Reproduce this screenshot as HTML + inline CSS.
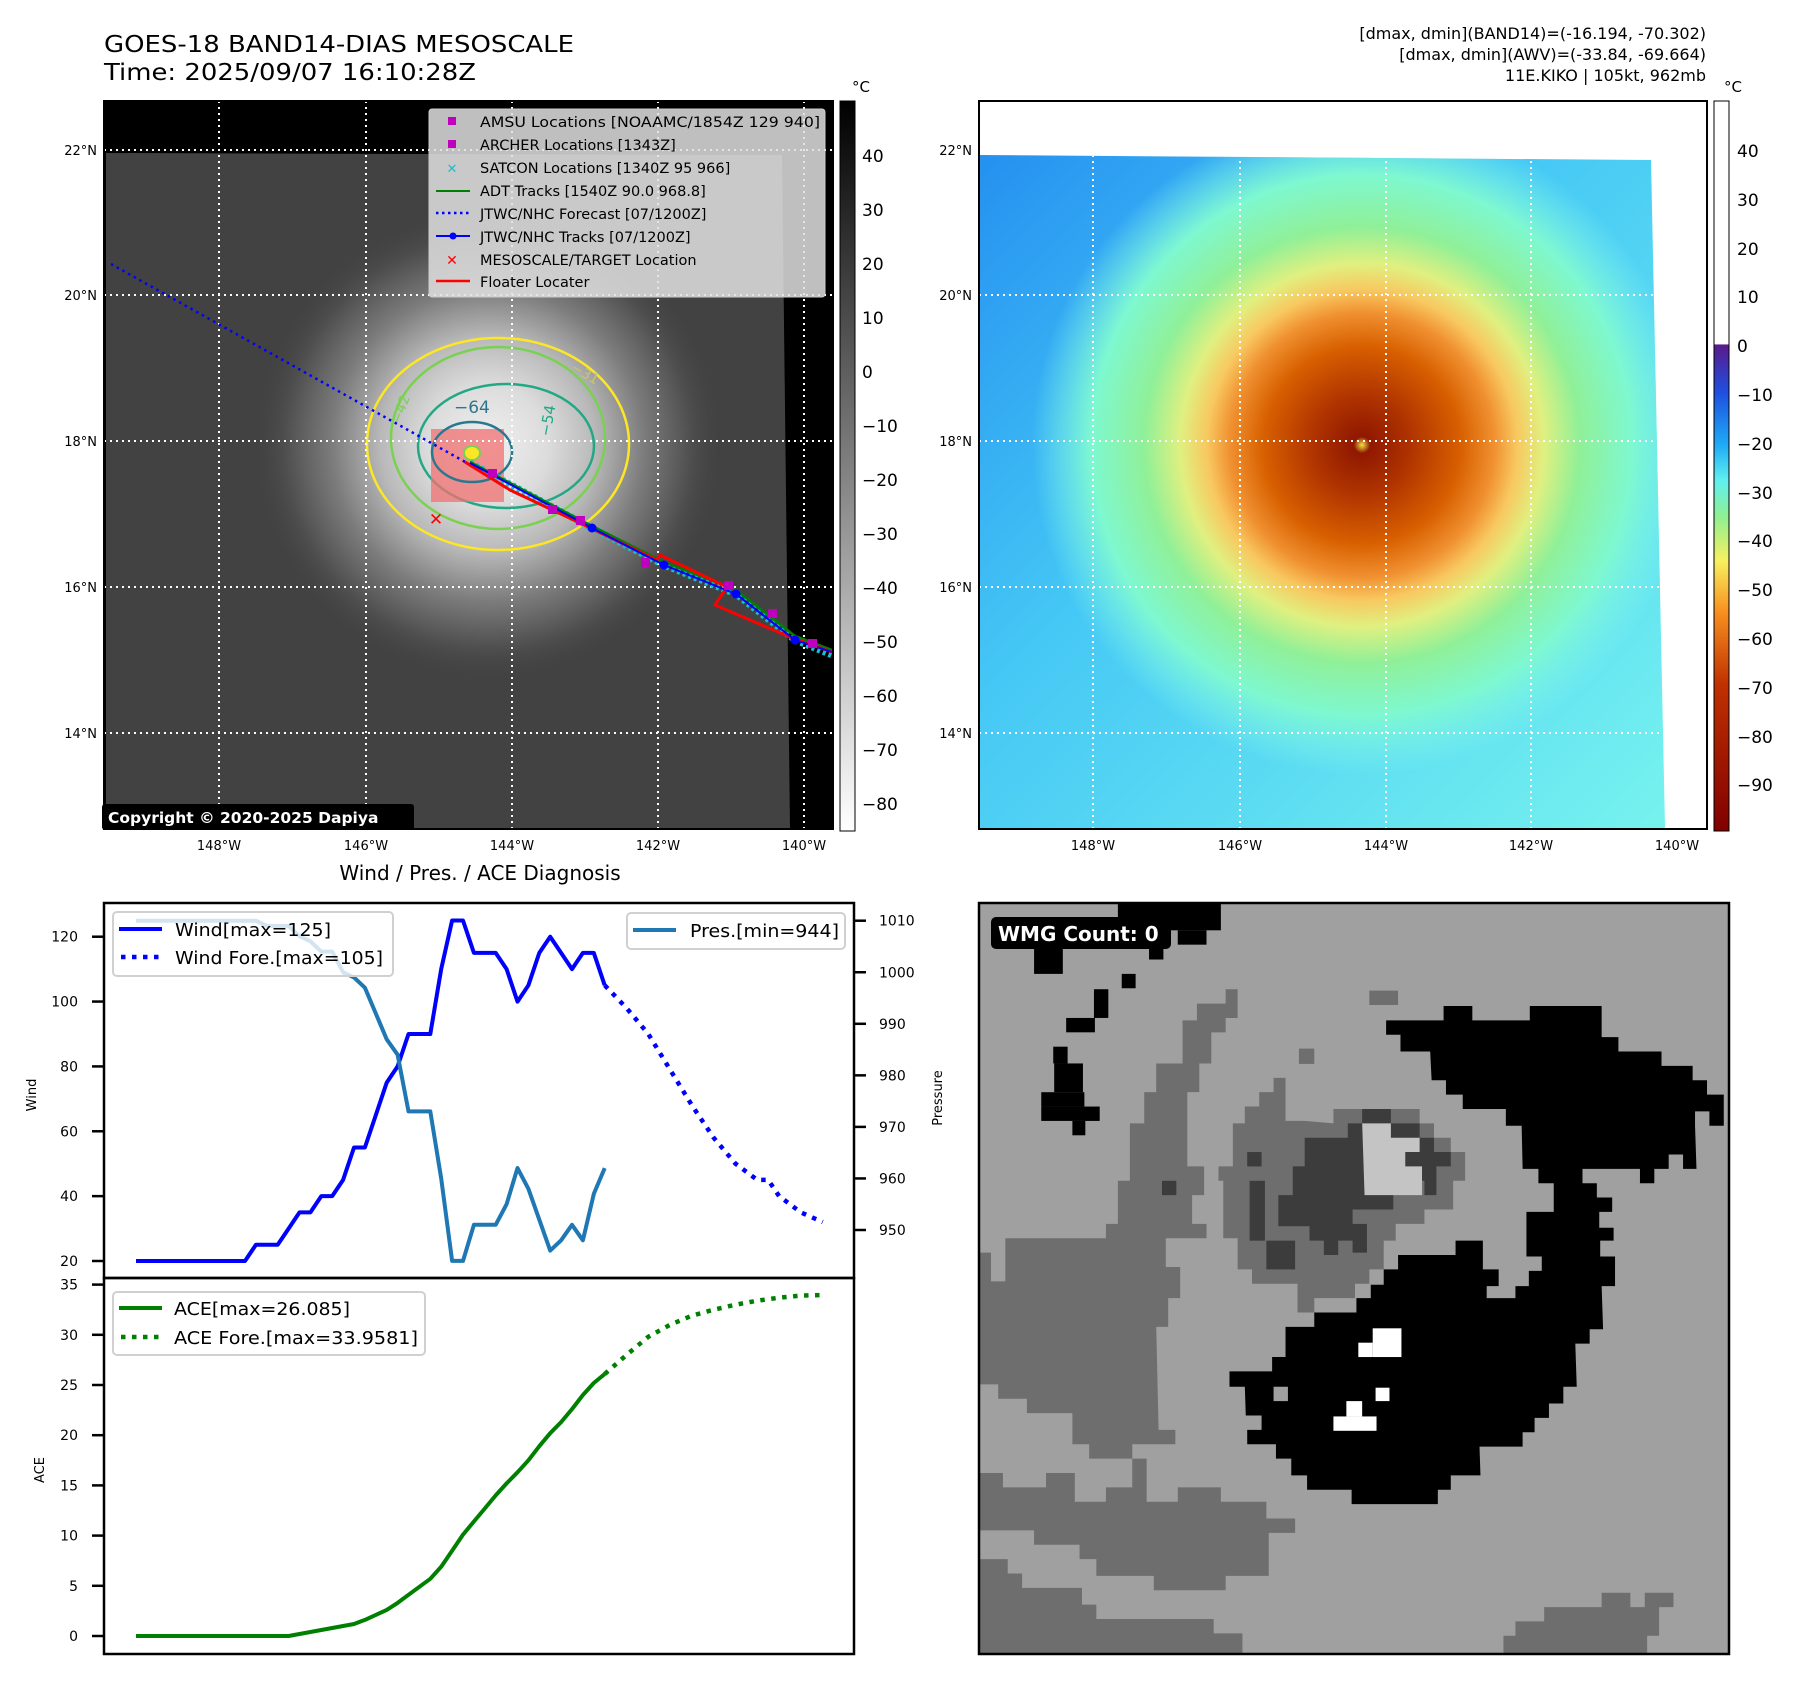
<!DOCTYPE html>
<html><head><meta charset="utf-8">
<style>
html,body{margin:0;padding:0;background:#fff;}
svg{display:block;font-family:"DejaVu Sans","Liberation Sans",sans-serif;}
</style></head>
<body>
<svg id="fig" xmlns="http://www.w3.org/2000/svg" width="1797" height="1690" viewBox="0 0 1797 1690">
<defs>
  <linearGradient id="cbGray" x1="0" y1="0" x2="0" y2="1">
    <stop offset="0" stop-color="#000"/><stop offset="1" stop-color="#fff"/>
  </linearGradient>
  <linearGradient id="cbColor" x1="0" y1="0" x2="0" y2="1">
    <stop offset="0" stop-color="#fff"/>
    <stop offset="0.333" stop-color="#fff"/>
    <stop offset="0.334" stop-color="#5a1a8c"/>
    <stop offset="0.40" stop-color="#1e50e0"/>
    <stop offset="0.47" stop-color="#1eaaf5"/>
    <stop offset="0.52" stop-color="#60f0f0"/>
    <stop offset="0.57" stop-color="#90f090"/>
    <stop offset="0.63" stop-color="#f8f060"/>
    <stop offset="0.70" stop-color="#f89020"/>
    <stop offset="0.80" stop-color="#c03000"/>
    <stop offset="1" stop-color="#800000"/>
  </linearGradient>
  <radialGradient id="stormGray" cx="488" cy="445" r="240" gradientUnits="userSpaceOnUse">
    <stop offset="0" stop-color="#f0f0f0"/>
    <stop offset="0.25" stop-color="#dcdcdc"/>
    <stop offset="0.45" stop-color="#b8b8b8"/>
    <stop offset="0.65" stop-color="#7c7c7c"/>
    <stop offset="0.85" stop-color="#4e4e4e"/>
    <stop offset="1" stop-color="#404040" stop-opacity="0"/>
  </radialGradient>
  <linearGradient id="awvBg" x1="0" y1="0" x2="1" y2="1">
    <stop offset="0" stop-color="#2590f0"/>
    <stop offset="0.4" stop-color="#45c8f5"/>
    <stop offset="1" stop-color="#78f4ee"/>
  </linearGradient>
  <radialGradient id="awvStorm" cx="1362" cy="445" r="330" gradientUnits="userSpaceOnUse">
    <stop offset="0" stop-color="#f0e040"/>
    <stop offset="0.025" stop-color="#901800"/>
    <stop offset="0.15" stop-color="#b03400"/>
    <stop offset="0.3" stop-color="#d86000"/>
    <stop offset="0.4" stop-color="#f09030"/>
    <stop offset="0.47" stop-color="#f8c860"/>
    <stop offset="0.55" stop-color="#e0f080"/>
    <stop offset="0.66" stop-color="#90f098"/>
    <stop offset="0.82" stop-color="#7ef8d0"/>
    <stop offset="1" stop-color="#7ff5f0" stop-opacity="0"/>
  </radialGradient>
  <clipPath id="clipL"><rect x="104" y="101" width="729" height="728"/></clipPath>
  <clipPath id="clipR"><polygon points="979,155 1651,160 1665,828 979,828"/></clipPath>
</defs>

<text x="104" y="52" font-size="23" textLength="470" lengthAdjust="spacingAndGlyphs">GOES-18 BAND14-DIAS MESOSCALE</text>
<text x="104" y="80" font-size="23" textLength="372" lengthAdjust="spacingAndGlyphs">Time: 2025/09/07 16:10:28Z</text>
<g font-size="16" text-anchor="end">
  <text x="1706" y="39">[dmax, dmin](BAND14)=(-16.194, -70.302)</text>
  <text x="1706" y="60">[dmax, dmin](AWV)=(-33.84, -69.664)</text>
  <text x="1706" y="81">11E.KIKO | 105kt, 962mb</text>
</g>

<g>
  <rect x="104" y="101" width="729" height="728" fill="#000"/>
  <g clip-path="url(#clipL)">
    <polygon points="106,153 782,155 790,829 106,829" fill="#424242"/>
    <circle cx="488" cy="445" r="240" fill="url(#stormGray)"/>
    <ellipse cx="498" cy="444" rx="131" ry="106" fill="none" stroke="#fde725" stroke-width="2.5"/>
    <ellipse cx="498" cy="438" rx="107" ry="91" fill="none" stroke="#7ad151" stroke-width="2.5"/>
    <ellipse cx="506" cy="446" rx="88" ry="62" fill="none" stroke="#22a884" stroke-width="2.5"/>
    <rect x="431" y="429" width="73" height="73" fill="#f07070" opacity="0.75"/>
    <ellipse cx="472" cy="452" rx="40" ry="30" fill="none" stroke="#2a788e" stroke-width="2.5"/>
    <ellipse cx="472" cy="453" rx="8" ry="7" fill="#fde725" stroke="#7ad151" stroke-width="2"/>
    <text x="454" y="413" font-size="17" fill="#2a788e">−64</text>
    <text x="550" y="437" font-size="15" fill="#22a884" transform="rotate(-80 550 437)">−54</text>
    <text x="570" y="370" font-size="14" fill="#c8c860" transform="rotate(30 570 370)">−31</text>
    <text x="400" y="425" font-size="14" fill="#7ad151" transform="rotate(-70 400 425)">−42</text>
    <g stroke="#fff" stroke-width="2" stroke-dasharray="2 4">
      <line x1="219" y1="101" x2="219" y2="829"/><line x1="366" y1="101" x2="366" y2="829"/>
      <line x1="512" y1="101" x2="512" y2="829"/><line x1="658" y1="101" x2="658" y2="829"/>
      <line x1="804" y1="101" x2="804" y2="829"/>
      <line x1="104" y1="150" x2="833" y2="150"/><line x1="104" y1="295" x2="833" y2="295"/>
      <line x1="104" y1="441" x2="833" y2="441"/><line x1="104" y1="587" x2="833" y2="587"/>
      <line x1="104" y1="733" x2="833" y2="733"/>
    </g>
    <polyline points="111,264 467,463" fill="none" stroke="#0000ff" stroke-width="2.5" stroke-dasharray="2.5 4"/>
    <polyline points="470,463 592,528 664,565 736,594 795,640 832,655" fill="none" stroke="#17becf" stroke-width="7" stroke-dasharray="3 3"/>
    <polyline points="470,462 592,526 664,562 736,590 795,636 832,650" fill="none" stroke="#008000" stroke-width="2.5"/>
    <polyline points="465,462 510,490 580,523 657,560 660,555 727,587 715,605 757,623 790,637 832,652" fill="none" stroke="#ff0000" stroke-width="3"/>
    <polyline points="470,463 592,528 664,565 736,594 795,640 832,652" fill="none" stroke="#0000ff" stroke-width="2"/>
    <g fill="#0000ff"><circle cx="592" cy="528" r="4.5"/><circle cx="664" cy="565" r="4.5"/><circle cx="736" cy="594" r="4.5"/><circle cx="795" cy="640" r="4.5"/></g>
    <g fill="#bf00bf">
      <rect x="488" y="469" width="9" height="9"/><rect x="548" y="505" width="9" height="9"/><rect x="576" y="516" width="9" height="9"/><rect x="641" y="558" width="9" height="9"/><rect x="724" y="581" width="9" height="9"/><rect x="768" y="609" width="9" height="9"/><rect x="808" y="639" width="9" height="9"/>
    </g>
    <text x="436" y="525" font-size="17" font-weight="bold" fill="#ff0000" text-anchor="middle">✕</text>
  </g>
  <rect x="104" y="101" width="729" height="728" fill="none" stroke="#000" stroke-width="2"/>
  <g font-size="14.5">
    <rect x="429" y="109" width="396" height="188" rx="3" fill="#e0e0e0" fill-opacity="0.85" stroke="#ccc"/>
    <rect x="448" y="117" width="8" height="8" fill="#bf00bf"/><text x="480" y="127" textLength="340" lengthAdjust="spacingAndGlyphs">AMSU Locations [NOAAMC/1854Z 129 940]</text>
    <rect x="448" y="140" width="8" height="8" fill="#bf00bf"/><text x="480" y="150">ARCHER Locations [1343Z]</text>
    <text x="452" y="173" fill="#17becf" font-size="13" font-weight="bold" text-anchor="middle">✕</text><text x="480" y="173">SATCON Locations [1340Z 95 966]</text>
    <line x1="436" y1="191" x2="470" y2="191" stroke="#008000" stroke-width="2"/><text x="480" y="196">ADT Tracks [1540Z 90.0 968.8]</text>
    <line x1="436" y1="213" x2="470" y2="213" stroke="#0000ff" stroke-width="2.5" stroke-dasharray="2.5 3.5"/><text x="480" y="219">JTWC/NHC Forecast [07/1200Z]</text>
    <line x1="436" y1="236" x2="470" y2="236" stroke="#0000ff" stroke-width="2"/><circle cx="453" cy="236" r="3.5" fill="#0000ff"/><text x="480" y="242">JTWC/NHC Tracks [07/1200Z]</text>
    <text x="452" y="265" fill="#ff0000" font-size="14" font-weight="bold" text-anchor="middle">✕</text><text x="480" y="265">MESOSCALE/TARGET Location</text>
    <line x1="436" y1="281" x2="470" y2="281" stroke="#ff0000" stroke-width="2.5"/><text x="480" y="287">Floater Locater</text>
  </g>
  <rect x="102" y="804" width="312" height="26" rx="3" fill="#000"/>
  <text x="108" y="823" font-size="15.5" font-weight="bold" fill="#fff">Copyright © 2020-2025 Dapiya</text>
  <g font-size="13" text-anchor="middle">
    <text x="219" y="850">148°W</text><text x="366" y="850">146°W</text><text x="512" y="850">144°W</text><text x="658" y="850">142°W</text><text x="804" y="850">140°W</text>
  </g>
  <g font-size="13" text-anchor="end">
    <text x="97" y="155">22°N</text><text x="97" y="300">20°N</text><text x="97" y="446">18°N</text><text x="97" y="592">16°N</text><text x="97" y="738">14°N</text>
  </g>
</g>
<g>
  <rect x="840" y="101" width="15" height="730" fill="url(#cbGray)" stroke="#000" stroke-width="1"/>
  <text x="852" y="92" font-size="15">°C</text>
  <g font-size="17">
    <text x="862" y="162">40</text><text x="862" y="216">30</text><text x="862" y="270">20</text><text x="862" y="324">10</text><text x="862" y="378">0</text><text x="862" y="432">−10</text><text x="862" y="486">−20</text><text x="862" y="540">−30</text><text x="862" y="594">−40</text><text x="862" y="648">−50</text><text x="862" y="702">−60</text><text x="862" y="756">−70</text><text x="862" y="810">−80</text>
  </g>
</g>

<g>
  <rect x="979" y="101" width="728" height="728" fill="#fff"/>
  <g clip-path="url(#clipR)">
    <rect x="979" y="150" width="700" height="690" fill="url(#awvBg)"/>
    <circle cx="1362" cy="445" r="330" fill="url(#awvStorm)"/>
    <g stroke="#fff" stroke-width="2" stroke-dasharray="2 4">
      <line x1="1093" y1="101" x2="1093" y2="829"/><line x1="1240" y1="101" x2="1240" y2="829"/>
      <line x1="1386" y1="101" x2="1386" y2="829"/><line x1="1531" y1="101" x2="1531" y2="829"/>
      <line x1="1677" y1="101" x2="1677" y2="829"/>
      <line x1="979" y1="150" x2="1707" y2="150"/><line x1="979" y1="295" x2="1707" y2="295"/>
      <line x1="979" y1="441" x2="1707" y2="441"/><line x1="979" y1="587" x2="1707" y2="587"/>
      <line x1="979" y1="733" x2="1707" y2="733"/>
    </g>
  </g>
  <rect x="979" y="101" width="728" height="728" fill="none" stroke="#000" stroke-width="2"/>
  <g font-size="13" text-anchor="middle">
    <text x="1093" y="850">148°W</text><text x="1240" y="850">146°W</text><text x="1386" y="850">144°W</text><text x="1531" y="850">142°W</text><text x="1677" y="850">140°W</text>
  </g>
  <g font-size="13" text-anchor="end">
    <text x="972" y="155">22°N</text><text x="972" y="300">20°N</text><text x="972" y="446">18°N</text><text x="972" y="592">16°N</text><text x="972" y="738">14°N</text>
  </g>
</g>
<g>
  <rect x="1714" y="101" width="15" height="730" fill="url(#cbColor)" stroke="#000" stroke-width="1"/>
  <text x="1724" y="92" font-size="15">°C</text>
  <g font-size="17">
    <text x="1737" y="157">40</text><text x="1737" y="206">30</text><text x="1737" y="255">20</text><text x="1737" y="303">10</text><text x="1737" y="352">0</text><text x="1737" y="401">−10</text><text x="1737" y="450">−20</text><text x="1737" y="499">−30</text><text x="1737" y="547">−40</text><text x="1737" y="596">−50</text><text x="1737" y="645">−60</text><text x="1737" y="694">−70</text><text x="1737" y="743">−80</text><text x="1737" y="791">−90</text>
  </g>
</g>

<g>
  <svg x="979" y="903" width="751" height="751" viewBox="0 0 1568 1568" preserveAspectRatio="none">
    <rect x="0" y="0" width="1568" height="1568" fill="#a0a0a0"/>
    <g fill="#6e6e6e">
      <polygon points="0,730 25,730 25,790 55,790 55,700 265,700 265,670 290,670 290,580 315,580 315,460 345,460 345,395 370,395 370,335 425,335 425,245 455,245 455,210 515,210 515,180 540,180 540,240 515,240 515,270 485,270 485,335 460,335 460,395 435,395 435,550 470,550 470,610 445,610 445,670 475,670 475,700 390,700 390,760 420,760 420,825 395,825 395,885 370,885 375,1100 410,1100 410,1130 320,1130 320,1160 230,1160 230,1130 195,1130 195,1065 100,1065 100,1035 40,1035 40,1005 0,1005"/>
      <polygon points="0,1190 50,1190 50,1220 140,1220 140,1190 200,1190 200,1250 265,1250 265,1220 320,1220 320,1160 350,1160 350,1250 415,1250 415,1220 505,1220 505,1250 600,1250 600,1285 660,1285 660,1315 605,1315 605,1405 515,1405 515,1435 365,1435 365,1405 245,1405 245,1370 210,1370 210,1340 115,1340 115,1310 0,1310"/>
      <polygon points="0,1370 60,1370 60,1400 90,1400 90,1430 215,1430 215,1465 245,1465 245,1495 490,1495 490,1525 550,1525 550,1568 0,1568"/>
      <polygon points="1095,1568 1095,1530 1120,1530 1120,1500 1180,1500 1180,1470 1300,1470 1300,1440 1360,1440 1360,1470 1390,1470 1390,1440 1450,1440 1450,1470 1420,1470 1420,1530 1395,1530 1395,1568"/>
      <polygon points="500,550 530,550 530,460 555,460 555,425 585,425 585,395 615,395 615,365 640,365 640,455 680,455 740,460 740,430 920,430 920,460 950,460 950,490 985,490 985,520 1015,520 1015,580 990,580 990,640 930,640 930,670 870,670 870,705 845,705 845,765 815,765 815,795 785,795 785,825 700,825 700,855 665,855 665,795 570,795 570,765 540,765 540,700 510,700 510,580 500,580"/>
      <rect x="815" y="183" width="60" height="30"/><rect x="668" y="304" width="32" height="32"/>
    </g>
    <g fill="#3c3c3c">
      <polygon points="680,490 770,490 770,460 800,460 800,430 860,430 860,460 920,460 920,490 950,490 950,520 985,520 985,550 955,550 955,610 930,610 930,580 865,580 865,640 780,640 780,670 810,670 810,730 780,730 780,705 750,705 750,735 720,735 720,705 690,705 690,675 625,675 625,610 655,610 655,550 680,550"/>
      <rect x="565" y="580" width="32" height="125"/><rect x="600" y="705" width="60" height="60"/>
      <rect x="560" y="520" width="30" height="30"/><rect x="382" y="580" width="30" height="30"/>
    </g>
    <polygon points="800,460 860,460 860,490 920,490 920,520 890,520 890,550 925,550 925,610 805,610" fill="#c4c4c4"/>
    <g fill="#000">
      <rect x="290" y="0" width="215" height="57"/><rect x="415" y="57" width="60" height="30"/><rect x="355" y="57" width="30" height="61"/><rect x="115" y="90" width="60" height="58"/>
      <rect x="298" y="148" width="29" height="30"/><rect x="240" y="180" width="30" height="60"/><rect x="182" y="240" width="60" height="30"/>
      <rect x="155" y="300" width="30" height="35"/><rect x="157" y="335" width="60" height="60"/><rect x="130" y="395" width="90" height="30"/><rect x="130" y="425" width="122" height="30"/><rect x="195" y="455" width="27" height="30"/>
      <polygon points="850,245 970,245 970,215 1030,215 1030,245 1150,245 1150,215 1300,215 1300,280 1335,280 1335,310 1425,310 1425,340 1490,340 1490,370 1520,370 1520,400 1555,400 1555,465 1525,465 1525,435 1495,435 1495,465 1498,555 1470,555 1470,525 1440,525 1440,555 1410,555 1410,585 1380,585 1380,555 1260,555 1260,585 1290,585 1290,615 1322,615 1322,645 1295,645 1295,678 1325,678 1325,705 1297,705 1297,738 1328,738 1328,800 1300,800 1303,890 1275,890 1275,920 1245,920 1248,1010 1220,1010 1220,1045 1190,1045 1190,1075 1160,1075 1160,1105 1135,1105 1135,1135 1045,1135 1047,1195 985,1195 985,1225 958,1225 958,1255 778,1255 778,1225 685,1225 685,1195 652,1195 652,1160 620,1160 620,1130 560,1130 560,1100 590,1100 590,1070 557,1070 555,1010 523,1010 523,978 612,978 612,948 640,948 640,885 700,885 700,855 788,855 788,825 818,825 818,797 845,797 845,765 875,765 875,735 995,735 995,705 1052,705 1052,765 1085,765 1085,800 1060,800 1060,825 1120,825 1120,800 1148,800 1148,768 1175,768 1175,738 1143,738 1143,645 1200,645 1200,585 1168,585 1168,555 1135,555 1133,465 1100,465 1100,430 1010,430 1010,400 975,400 975,370 945,370 942,310 880,310 880,275 850,275"/>
    </g>
    <rect x="615" y="1010" width="30" height="30" fill="#a0a0a0"/>
    <g fill="#fff">
      <rect x="822" y="888" width="60" height="60"/><rect x="792" y="918" width="30" height="30"/><rect x="828" y="1012" width="29" height="28"/><rect x="767" y="1040" width="33" height="32"/><rect x="740" y="1072" width="90" height="30"/>
    </g>
  </svg>
  <rect x="991" y="917" width="180" height="32" rx="5" fill="#000"/>
  <text x="998" y="941" font-size="20" font-weight="bold" fill="#fff">WMG Count: 0</text>
  <rect x="979" y="903" width="750" height="751" fill="none" stroke="#000" stroke-width="2.5"/>
</g>

<text x="480" y="880" font-size="20" text-anchor="middle">Wind / Pres. / ACE Diagnosis</text>
<g id="chart"></g>

<script>
const windObs = [20,20,20,20,20,20,20,20,20,20,20,25,25,25,30,35,35,40,40,45,55,55,65,75,80,90,90,90,110,125,125,115,115,115,110,100,105,115,120,115,110,115,115,105];
const presObs = [1010,1010,1010,1010,1010,1010,1010,1010,1010,1010,1010,1010,1009,1009,1009,1007,1006,1004,1004,1000,999,997,992,987,984,973,973,973,960,944,944,951,951,951,955,962,958,952,946,948,951,948,957,962];
const aceObs = [0,0,0,0,0,0,0,0,0,0,0,0,0,0,0,0.2,0.4,0.6,0.8,1.0,1.2,1.6,2.1,2.6,3.3,4.1,4.9,5.7,6.9,8.5,10.1,11.4,12.7,14.0,15.2,16.3,17.5,18.9,20.2,21.3,22.6,24.0,25.2,26.1];
const foreSteps = [43,45,47,49,51,53,55,57,58,59,61,63];
const windFore = [105,98,90,79,68,58,50,45,45,40,35,32];
const aceForeSteps = [43,45,47,49,51,53,55,57,59,61,63];
const aceFore = [26.1,28.0,29.8,31.0,31.9,32.5,33.0,33.4,33.7,33.9,33.96];
const windTicks = [20,40,60,80,100,120];
const presTicks = [950,960,970,980,990,1000,1010];
const aceTicks = [0,5,10,15,20,25,30,35];

const NS = "http://www.w3.org/2000/svg";
const chart = document.getElementById('chart');
const xS = i => 136 + i * 10.9;
const yWind = v => 1261 - (v - 20) * 3.243;
const yPres = p => 1230 - (p - 950) * 5.155;
const yAce = a => 1636 - a * 10.04;

function mk(tag, attrs, parent) {
  const e = document.createElementNS(NS, tag);
  for (const k in attrs) e.setAttribute(k, attrs[k]);
  (parent || chart).appendChild(e);
  return e;
}
function pts(xs, ys, fy) { return xs.map((x, k) => xS(x) + ',' + fy(ys[k]).toFixed(1)).join(' '); }
const idx = windObs.map((_, i) => i);

let f1 = mk('rect', {x:104, y:903, width:750, height:375, fill:'none', stroke:'#000', 'stroke-width':2.5});


let f2 = mk('rect', {x:104, y:1278, width:750, height:376, fill:'none', stroke:'#000', 'stroke-width':2.5});



windTicks.forEach(v => {
  const y = yWind(v);
  mk('line', {x1:92, y1:y, x2:104, y2:y, stroke:'#000', 'stroke-width':2.5});
  const t = mk('text', {x:78, y:y+5, 'font-size':14, 'text-anchor':'end'});
  
  
  t.textContent = v;
});
presTicks.forEach(v => {
  const y = yPres(v);
  mk('line', {x1:854, y1:y, x2:866, y2:y, stroke:'#000', 'stroke-width':2.5});
  const t = mk('text', {x:879, y:y+5, 'font-size':14});
  
  
  t.textContent = v;
});
aceTicks.forEach(v => {
  const y = yAce(v);
  mk('line', {x1:92, y1:y, x2:104, y2:y, stroke:'#000', 'stroke-width':2.5});
  const t = mk('text', {x:78, y:y+5, 'font-size':14, 'text-anchor':'end'});
  
  
  t.textContent = v;
});
let yl1 = mk('text', {x:36, y:1095, 'font-size':13, 'text-anchor':'middle', transform:'rotate(-90 36 1095)'});


yl1.textContent = 'Wind';
let yl2 = mk('text', {x:942, y:1098, 'font-size':13, 'text-anchor':'middle', transform:'rotate(-90 942 1098)'});


yl2.textContent = 'Pressure';
let yl3 = mk('text', {x:44, y:1470, 'font-size':13, 'text-anchor':'middle', transform:'rotate(-90 44 1470)'});


yl3.textContent = 'ACE';

let lw = mk('polyline', {points: pts(idx, windObs, yWind), fill:'none', stroke:'#0000ff', 'stroke-width':4, 'stroke-linejoin':'round'});


let lwf = mk('polyline', {points: pts(foreSteps, windFore, yWind), fill:'none', stroke:'#0000ff', 'stroke-width':4.5, 'stroke-dasharray':'4.5 6.5'});


let lp = mk('polyline', {points: pts(idx, presObs, yPres), fill:'none', stroke:'#1f77b4', 'stroke-width':4, 'stroke-linejoin':'round'});


let la = mk('polyline', {points: pts(idx, aceObs, yAce), fill:'none', stroke:'#008000', 'stroke-width':4, 'stroke-linejoin':'round'});


let laf = mk('polyline', {points: pts(aceForeSteps, aceFore, yAce), fill:'none', stroke:'#008000', 'stroke-width':4.5, 'stroke-dasharray':'4.5 6.5'});



function legendBox(x, y, w, h, name) {
  const r = mk('rect', {x:x, y:y, width:w, height:h, rx:4, fill:'#fff', 'fill-opacity':0.8, stroke:'#d0d0d0', 'stroke-width':2});
  
  
}
function legText(x, y, s, name, len) {
  const t = mk('text', {x:x, y:y, 'font-size':18, textLength:len, lengthAdjust:'spacingAndGlyphs'});
  
  
  t.textContent = s;
}
legendBox(113, 912, 280, 64, 'wind-legend');
mk('line', {x1:119, y1:929, x2:162, y2:929, stroke:'#0000ff', 'stroke-width':4});
legText(175, 936, 'Wind[max=125]', 'wind-legend-entry', 156);
mk('line', {x1:121, y1:957, x2:162, y2:957, stroke:'#0000ff', 'stroke-width':4.5, 'stroke-dasharray':'4.5 6.5'});
legText(175, 964, 'Wind Fore.[max=105]', 'wind-forecast-legend-entry', 208);
legendBox(627, 913, 218, 36, 'pressure-legend');
mk('line', {x1:633, y1:930, x2:676, y2:930, stroke:'#1f77b4', 'stroke-width':4});
legText(690, 937, 'Pres.[min=944]', 'pressure-legend-entry', 149);
legendBox(113, 1292, 312, 63, 'ace-legend');
mk('line', {x1:119, y1:1308, x2:162, y2:1308, stroke:'#008000', 'stroke-width':4});
legText(174, 1315, 'ACE[max=26.085]', 'ace-legend-entry', 176);
mk('line', {x1:121, y1:1337, x2:162, y2:1337, stroke:'#008000', 'stroke-width':4.5, 'stroke-dasharray':'4.5 6.5'});
legText(174, 1344, 'ACE Fore.[max=33.9581]', 'ace-forecast-legend-entry', 244);
</script>
</body></html>
